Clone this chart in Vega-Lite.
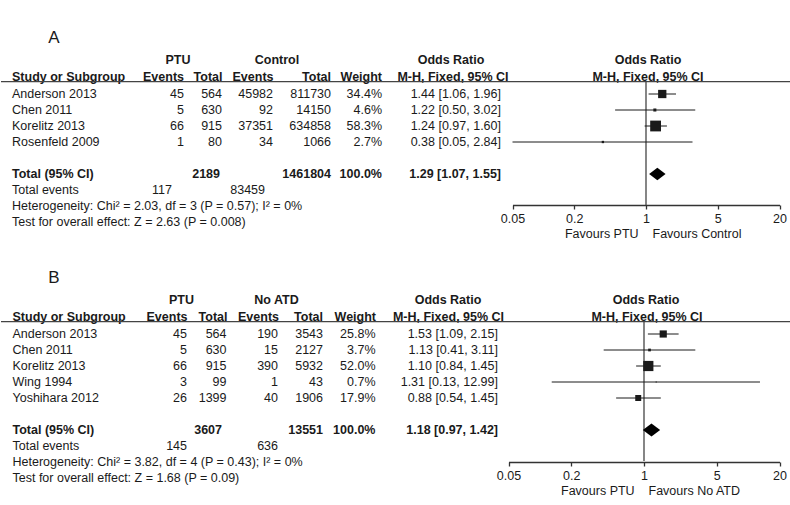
{
"$schema":"https://vega.github.io/schema/vega-lite/v6.json",
"padding":0,
"spacing":0,
"background":"white",
"config":{"view":{"stroke":null},"font":"Liberation Sans","text":{"font":"Liberation Sans","fontSize":12.5,"color":"#1a1a1a"}},
"datasets":{
"one":[{}],
"A":[
{"study":"Anderson 2013","kind":"study","ptuE":45,"ptuN":564,"ctlE":45982,"ctlN":811730,"weight":0.344,"or":1.44,"lo":1.06,"hi":1.96,"orText":"1.44 [1.06, 1.96]"},
{"study":"Chen 2011","kind":"study","ptuE":5,"ptuN":630,"ctlE":92,"ctlN":14150,"weight":0.046,"or":1.22,"lo":0.50,"hi":3.02,"orText":"1.22 [0.50, 3.02]"},
{"study":"Korelitz 2013","kind":"study","ptuE":66,"ptuN":915,"ctlE":37351,"ctlN":634858,"weight":0.583,"or":1.24,"lo":0.97,"hi":1.60,"orText":"1.24 [0.97, 1.60]"},
{"study":"Rosenfeld 2009","kind":"study","ptuE":1,"ptuN":80,"ctlE":34,"ctlN":1066,"weight":0.027,"or":0.38,"lo":0.05,"hi":2.84,"orText":"0.38 [0.05, 2.84]"},
{"study":"Total (95% CI)","kind":"total","ptuN":2189,"ctlN":1461804,"weight":1.0,"or":1.29,"lo":1.07,"hi":1.55,"orText":"1.29 [1.07, 1.55]"},
{"study":"Total events","kind":"events","ptuE":117,"ctlE":83459}
],
"B":[
{"study":"Anderson 2013","kind":"study","ptuE":45,"ptuN":564,"ctlE":190,"ctlN":3543,"weight":0.258,"or":1.53,"lo":1.09,"hi":2.15,"orText":"1.53 [1.09, 2.15]"},
{"study":"Chen 2011","kind":"study","ptuE":5,"ptuN":630,"ctlE":15,"ctlN":2127,"weight":0.037,"or":1.13,"lo":0.41,"hi":3.11,"orText":"1.13 [0.41, 3.11]"},
{"study":"Korelitz 2013","kind":"study","ptuE":66,"ptuN":915,"ctlE":390,"ctlN":5932,"weight":0.520,"or":1.10,"lo":0.84,"hi":1.45,"orText":"1.10 [0.84, 1.45]"},
{"study":"Wing 1994","kind":"study","ptuE":3,"ptuN":99,"ctlE":1,"ctlN":43,"weight":0.007,"or":1.31,"lo":0.13,"hi":12.99,"orText":"1.31 [0.13, 12.99]"},
{"study":"Yoshihara 2012","kind":"study","ptuE":26,"ptuN":1399,"ctlE":40,"ctlN":1906,"weight":0.179,"or":0.88,"lo":0.54,"hi":1.45,"orText":"0.88 [0.54, 1.45]"},
{"study":"Total (95% CI)","kind":"total","ptuN":3607,"ctlN":13551,"weight":1.0,"or":1.18,"lo":0.97,"hi":1.42,"orText":"1.18 [0.97, 1.42]"},
{"study":"Total events","kind":"events","ptuE":145,"ctlE":636}
]
},
"vconcat":[
{"width":790,"height":240,
"resolve":{"scale":{"x":"independent"},"axis":{"x":"independent"}},
"layer":[
{"data":{"name":"one"},"mark":{"type":"text","text":"A","fontSize":17,"align":"center","dy":-23.7},"encoding":{"x":{"datum":53,"type":"quantitative","scale":{"type":"linear","domain":[0,790],"range":[0,790],"nice":false,"zero":false},"axis":null},"y":{"datum":"h1","type":"nominal","scale":{"type":"band","domain":["h1","h2","Anderson 2013","Chen 2011","Korelitz 2013","Rosenfeld 2009","gap","Total (95% CI)","Total events","Heterogeneity","Test"],"range":[54,230],"paddingInner":0,"paddingOuter":0},"axis":null}}},
{"data":{"name":"one"},"mark":{"type":"text","text":"PTU","fontWeight":"bold","align":"center","dy":-2.5},"encoding":{"x":{"datum":177,"type":"quantitative","scale":{"type":"linear","domain":[0,790],"range":[0,790],"nice":false,"zero":false},"axis":null},"y":{"datum":"h1","type":"nominal","scale":{"type":"band","domain":["h1","h2","Anderson 2013","Chen 2011","Korelitz 2013","Rosenfeld 2009","gap","Total (95% CI)","Total events","Heterogeneity","Test"],"range":[54,230],"paddingInner":0,"paddingOuter":0},"axis":null}}},
{"data":{"name":"one"},"mark":{"type":"text","text":"Control","fontWeight":"bold","align":"center","dy":-2.5},"encoding":{"x":{"datum":276,"type":"quantitative","scale":{"type":"linear","domain":[0,790],"range":[0,790],"nice":false,"zero":false},"axis":null},"y":{"datum":"h1","type":"nominal","scale":{"type":"band","domain":["h1","h2","Anderson 2013","Chen 2011","Korelitz 2013","Rosenfeld 2009","gap","Total (95% CI)","Total events","Heterogeneity","Test"],"range":[54,230],"paddingInner":0,"paddingOuter":0},"axis":null}}},
{"data":{"name":"one"},"mark":{"type":"text","text":"Odds Ratio","fontWeight":"bold","align":"center","dy":-2.5},"encoding":{"x":{"datum":450,"type":"quantitative","scale":{"type":"linear","domain":[0,790],"range":[0,790],"nice":false,"zero":false},"axis":null},"y":{"datum":"h1","type":"nominal","scale":{"type":"band","domain":["h1","h2","Anderson 2013","Chen 2011","Korelitz 2013","Rosenfeld 2009","gap","Total (95% CI)","Total events","Heterogeneity","Test"],"range":[54,230],"paddingInner":0,"paddingOuter":0},"axis":null}}},
{"data":{"name":"one"},"mark":{"type":"text","text":"Odds Ratio","fontWeight":"bold","align":"center","dy":-2.5},"encoding":{"x":{"datum":647,"type":"quantitative","scale":{"type":"linear","domain":[0,790],"range":[0,790],"nice":false,"zero":false},"axis":null},"y":{"datum":"h1","type":"nominal","scale":{"type":"band","domain":["h1","h2","Anderson 2013","Chen 2011","Korelitz 2013","Rosenfeld 2009","gap","Total (95% CI)","Total events","Heterogeneity","Test"],"range":[54,230],"paddingInner":0,"paddingOuter":0},"axis":null}}},
{"data":{"name":"one"},"mark":{"type":"text","text":"Study or Subgroup","fontWeight":"bold","align":"left","dy":-1.5},"encoding":{"x":{"datum":11,"type":"quantitative","scale":{"type":"linear","domain":[0,790],"range":[0,790],"nice":false,"zero":false},"axis":null},"y":{"datum":"h2","type":"nominal","scale":{"type":"band","domain":["h1","h2","Anderson 2013","Chen 2011","Korelitz 2013","Rosenfeld 2009","gap","Total (95% CI)","Total events","Heterogeneity","Test"],"range":[54,230],"paddingInner":0,"paddingOuter":0},"axis":null}}},
{"data":{"name":"one"},"mark":{"type":"text","text":"Events","fontWeight":"bold","align":"right","dy":-1.5},"encoding":{"x":{"datum":183,"type":"quantitative","scale":{"type":"linear","domain":[0,790],"range":[0,790],"nice":false,"zero":false},"axis":null},"y":{"datum":"h2","type":"nominal","scale":{"type":"band","domain":["h1","h2","Anderson 2013","Chen 2011","Korelitz 2013","Rosenfeld 2009","gap","Total (95% CI)","Total events","Heterogeneity","Test"],"range":[54,230],"paddingInner":0,"paddingOuter":0},"axis":null}}},
{"data":{"name":"one"},"mark":{"type":"text","text":"Total","fontWeight":"bold","align":"right","dy":-1.5},"encoding":{"x":{"datum":221.5,"type":"quantitative","scale":{"type":"linear","domain":[0,790],"range":[0,790],"nice":false,"zero":false},"axis":null},"y":{"datum":"h2","type":"nominal","scale":{"type":"band","domain":["h1","h2","Anderson 2013","Chen 2011","Korelitz 2013","Rosenfeld 2009","gap","Total (95% CI)","Total events","Heterogeneity","Test"],"range":[54,230],"paddingInner":0,"paddingOuter":0},"axis":null}}},
{"data":{"name":"one"},"mark":{"type":"text","text":"Events","fontWeight":"bold","align":"right","dy":-1.5},"encoding":{"x":{"datum":272.5,"type":"quantitative","scale":{"type":"linear","domain":[0,790],"range":[0,790],"nice":false,"zero":false},"axis":null},"y":{"datum":"h2","type":"nominal","scale":{"type":"band","domain":["h1","h2","Anderson 2013","Chen 2011","Korelitz 2013","Rosenfeld 2009","gap","Total (95% CI)","Total events","Heterogeneity","Test"],"range":[54,230],"paddingInner":0,"paddingOuter":0},"axis":null}}},
{"data":{"name":"one"},"mark":{"type":"text","text":"Total","fontWeight":"bold","align":"right","dy":-1.5},"encoding":{"x":{"datum":330,"type":"quantitative","scale":{"type":"linear","domain":[0,790],"range":[0,790],"nice":false,"zero":false},"axis":null},"y":{"datum":"h2","type":"nominal","scale":{"type":"band","domain":["h1","h2","Anderson 2013","Chen 2011","Korelitz 2013","Rosenfeld 2009","gap","Total (95% CI)","Total events","Heterogeneity","Test"],"range":[54,230],"paddingInner":0,"paddingOuter":0},"axis":null}}},
{"data":{"name":"one"},"mark":{"type":"text","text":"Weight","fontWeight":"bold","align":"right","dy":-1.5},"encoding":{"x":{"datum":381,"type":"quantitative","scale":{"type":"linear","domain":[0,790],"range":[0,790],"nice":false,"zero":false},"axis":null},"y":{"datum":"h2","type":"nominal","scale":{"type":"band","domain":["h1","h2","Anderson 2013","Chen 2011","Korelitz 2013","Rosenfeld 2009","gap","Total (95% CI)","Total events","Heterogeneity","Test"],"range":[54,230],"paddingInner":0,"paddingOuter":0},"axis":null}}},
{"data":{"name":"one"},"mark":{"type":"text","text":"M-H, Fixed, 95% CI","fontWeight":"bold","align":"center","dy":-1.5},"encoding":{"x":{"datum":452,"type":"quantitative","scale":{"type":"linear","domain":[0,790],"range":[0,790],"nice":false,"zero":false},"axis":null},"y":{"datum":"h2","type":"nominal","scale":{"type":"band","domain":["h1","h2","Anderson 2013","Chen 2011","Korelitz 2013","Rosenfeld 2009","gap","Total (95% CI)","Total events","Heterogeneity","Test"],"range":[54,230],"paddingInner":0,"paddingOuter":0},"axis":null}}},
{"data":{"name":"one"},"mark":{"type":"text","text":"M-H, Fixed, 95% CI","fontWeight":"bold","align":"center","dy":-1.5},"encoding":{"x":{"datum":647,"type":"quantitative","scale":{"type":"linear","domain":[0,790],"range":[0,790],"nice":false,"zero":false},"axis":null},"y":{"datum":"h2","type":"nominal","scale":{"type":"band","domain":["h1","h2","Anderson 2013","Chen 2011","Korelitz 2013","Rosenfeld 2009","gap","Total (95% CI)","Total events","Heterogeneity","Test"],"range":[54,230],"paddingInner":0,"paddingOuter":0},"axis":null}}},
{"data":{"name":"one"},"mark":{"type":"rule","color":"#444444","strokeWidth":1.3,"yOffset":3.7},"encoding":{"x":{"datum":0,"type":"quantitative","scale":{"type":"linear","domain":[0,790],"range":[0,790],"nice":false,"zero":false},"axis":null},"x2":{"datum":790},"y":{"datum":"h2","type":"nominal","scale":{"type":"band","domain":["h1","h2","Anderson 2013","Chen 2011","Korelitz 2013","Rosenfeld 2009","gap","Total (95% CI)","Total events","Heterogeneity","Test"],"range":[54,230],"paddingInner":0,"paddingOuter":0},"axis":null}}},
{"data":{"name":"A"},"transform":[{"filter":"datum.kind !== 'total'"}],"mark":{"type":"text","align":"left"},"encoding":{"x":{"datum":11,"type":"quantitative","scale":{"type":"linear","domain":[0,790],"range":[0,790],"nice":false,"zero":false},"axis":null},"y":{"field":"study","type":"nominal","scale":{"type":"band","domain":["h1","h2","Anderson 2013","Chen 2011","Korelitz 2013","Rosenfeld 2009","gap","Total (95% CI)","Total events","Heterogeneity","Test"],"range":[54,230],"paddingInner":0,"paddingOuter":0},"axis":null},"text":{"field":"study","type":"nominal"}}},
{"data":{"name":"A"},"transform":[{"filter":"datum.kind === 'study'"}],"mark":{"type":"text","align":"right"},"encoding":{"x":{"datum":183,"type":"quantitative","scale":{"type":"linear","domain":[0,790],"range":[0,790],"nice":false,"zero":false},"axis":null},"y":{"field":"study","type":"nominal","scale":{"type":"band","domain":["h1","h2","Anderson 2013","Chen 2011","Korelitz 2013","Rosenfeld 2009","gap","Total (95% CI)","Total events","Heterogeneity","Test"],"range":[54,230],"paddingInner":0,"paddingOuter":0},"axis":null},"text":{"field":"ptuE","type":"nominal"}}},
{"data":{"name":"A"},"transform":[{"filter":"datum.kind === 'study'"}],"mark":{"type":"text","align":"right"},"encoding":{"x":{"datum":221,"type":"quantitative","scale":{"type":"linear","domain":[0,790],"range":[0,790],"nice":false,"zero":false},"axis":null},"y":{"field":"study","type":"nominal","scale":{"type":"band","domain":["h1","h2","Anderson 2013","Chen 2011","Korelitz 2013","Rosenfeld 2009","gap","Total (95% CI)","Total events","Heterogeneity","Test"],"range":[54,230],"paddingInner":0,"paddingOuter":0},"axis":null},"text":{"field":"ptuN","type":"nominal"}}},
{"data":{"name":"A"},"transform":[{"filter":"datum.kind === 'study'"}],"mark":{"type":"text","align":"right"},"encoding":{"x":{"datum":272,"type":"quantitative","scale":{"type":"linear","domain":[0,790],"range":[0,790],"nice":false,"zero":false},"axis":null},"y":{"field":"study","type":"nominal","scale":{"type":"band","domain":["h1","h2","Anderson 2013","Chen 2011","Korelitz 2013","Rosenfeld 2009","gap","Total (95% CI)","Total events","Heterogeneity","Test"],"range":[54,230],"paddingInner":0,"paddingOuter":0},"axis":null},"text":{"field":"ctlE","type":"nominal"}}},
{"data":{"name":"A"},"transform":[{"filter":"datum.kind === 'study'"}],"mark":{"type":"text","align":"right"},"encoding":{"x":{"datum":330,"type":"quantitative","scale":{"type":"linear","domain":[0,790],"range":[0,790],"nice":false,"zero":false},"axis":null},"y":{"field":"study","type":"nominal","scale":{"type":"band","domain":["h1","h2","Anderson 2013","Chen 2011","Korelitz 2013","Rosenfeld 2009","gap","Total (95% CI)","Total events","Heterogeneity","Test"],"range":[54,230],"paddingInner":0,"paddingOuter":0},"axis":null},"text":{"field":"ctlN","type":"nominal"}}},
{"data":{"name":"A"},"transform":[{"filter":"datum.kind === 'study'"}],"mark":{"type":"text","align":"right"},"encoding":{"x":{"datum":381,"type":"quantitative","scale":{"type":"linear","domain":[0,790],"range":[0,790],"nice":false,"zero":false},"axis":null},"y":{"field":"study","type":"nominal","scale":{"type":"band","domain":["h1","h2","Anderson 2013","Chen 2011","Korelitz 2013","Rosenfeld 2009","gap","Total (95% CI)","Total events","Heterogeneity","Test"],"range":[54,230],"paddingInner":0,"paddingOuter":0},"axis":null},"text":{"field":"weight","type":"quantitative","format":".1%"}}},
{"data":{"name":"A"},"transform":[{"filter":"datum.kind === 'study'"}],"mark":{"type":"text","align":"right"},"encoding":{"x":{"datum":500,"type":"quantitative","scale":{"type":"linear","domain":[0,790],"range":[0,790],"nice":false,"zero":false},"axis":null},"y":{"field":"study","type":"nominal","scale":{"type":"band","domain":["h1","h2","Anderson 2013","Chen 2011","Korelitz 2013","Rosenfeld 2009","gap","Total (95% CI)","Total events","Heterogeneity","Test"],"range":[54,230],"paddingInner":0,"paddingOuter":0},"axis":null},"text":{"field":"orText","type":"nominal"}}},
{"data":{"name":"A"},"transform":[{"filter":"datum.kind === 'total'"}],"mark":{"type":"text","align":"left","fontWeight":"bold"},"encoding":{"x":{"datum":11,"type":"quantitative","scale":{"type":"linear","domain":[0,790],"range":[0,790],"nice":false,"zero":false},"axis":null},"y":{"field":"study","type":"nominal","scale":{"type":"band","domain":["h1","h2","Anderson 2013","Chen 2011","Korelitz 2013","Rosenfeld 2009","gap","Total (95% CI)","Total events","Heterogeneity","Test"],"range":[54,230],"paddingInner":0,"paddingOuter":0},"axis":null},"text":{"field":"study","type":"nominal"}}},
{"data":{"name":"A"},"transform":[{"filter":"datum.kind === 'total'"}],"mark":{"type":"text","align":"right","fontWeight":"bold"},"encoding":{"x":{"datum":219,"type":"quantitative","scale":{"type":"linear","domain":[0,790],"range":[0,790],"nice":false,"zero":false},"axis":null},"y":{"field":"study","type":"nominal","scale":{"type":"band","domain":["h1","h2","Anderson 2013","Chen 2011","Korelitz 2013","Rosenfeld 2009","gap","Total (95% CI)","Total events","Heterogeneity","Test"],"range":[54,230],"paddingInner":0,"paddingOuter":0},"axis":null},"text":{"field":"ptuN","type":"nominal"}}},
{"data":{"name":"A"},"transform":[{"filter":"datum.kind === 'total'"}],"mark":{"type":"text","align":"right","fontWeight":"bold"},"encoding":{"x":{"datum":330,"type":"quantitative","scale":{"type":"linear","domain":[0,790],"range":[0,790],"nice":false,"zero":false},"axis":null},"y":{"field":"study","type":"nominal","scale":{"type":"band","domain":["h1","h2","Anderson 2013","Chen 2011","Korelitz 2013","Rosenfeld 2009","gap","Total (95% CI)","Total events","Heterogeneity","Test"],"range":[54,230],"paddingInner":0,"paddingOuter":0},"axis":null},"text":{"field":"ctlN","type":"nominal"}}},
{"data":{"name":"A"},"transform":[{"filter":"datum.kind === 'total'"}],"mark":{"type":"text","align":"right","fontWeight":"bold"},"encoding":{"x":{"datum":381,"type":"quantitative","scale":{"type":"linear","domain":[0,790],"range":[0,790],"nice":false,"zero":false},"axis":null},"y":{"field":"study","type":"nominal","scale":{"type":"band","domain":["h1","h2","Anderson 2013","Chen 2011","Korelitz 2013","Rosenfeld 2009","gap","Total (95% CI)","Total events","Heterogeneity","Test"],"range":[54,230],"paddingInner":0,"paddingOuter":0},"axis":null},"text":{"field":"weight","type":"quantitative","format":".1%"}}},
{"data":{"name":"A"},"transform":[{"filter":"datum.kind === 'total'"}],"mark":{"type":"text","align":"right","fontWeight":"bold"},"encoding":{"x":{"datum":500,"type":"quantitative","scale":{"type":"linear","domain":[0,790],"range":[0,790],"nice":false,"zero":false},"axis":null},"y":{"field":"study","type":"nominal","scale":{"type":"band","domain":["h1","h2","Anderson 2013","Chen 2011","Korelitz 2013","Rosenfeld 2009","gap","Total (95% CI)","Total events","Heterogeneity","Test"],"range":[54,230],"paddingInner":0,"paddingOuter":0},"axis":null},"text":{"field":"orText","type":"nominal"}}},
{"data":{"name":"A"},"transform":[{"filter":"datum.kind === 'events'"}],"mark":{"type":"text","align":"right"},"encoding":{"x":{"datum":171,"type":"quantitative","scale":{"type":"linear","domain":[0,790],"range":[0,790],"nice":false,"zero":false},"axis":null},"y":{"field":"study","type":"nominal","scale":{"type":"band","domain":["h1","h2","Anderson 2013","Chen 2011","Korelitz 2013","Rosenfeld 2009","gap","Total (95% CI)","Total events","Heterogeneity","Test"],"range":[54,230],"paddingInner":0,"paddingOuter":0},"axis":null},"text":{"field":"ptuE","type":"nominal"}}},
{"data":{"name":"A"},"transform":[{"filter":"datum.kind === 'events'"}],"mark":{"type":"text","align":"right"},"encoding":{"x":{"datum":264,"type":"quantitative","scale":{"type":"linear","domain":[0,790],"range":[0,790],"nice":false,"zero":false},"axis":null},"y":{"field":"study","type":"nominal","scale":{"type":"band","domain":["h1","h2","Anderson 2013","Chen 2011","Korelitz 2013","Rosenfeld 2009","gap","Total (95% CI)","Total events","Heterogeneity","Test"],"range":[54,230],"paddingInner":0,"paddingOuter":0},"axis":null},"text":{"field":"ctlE","type":"nominal"}}},
{"data":{"name":"one"},"mark":{"type":"text","text":"Heterogeneity: Chi² = 2.03, df = 3 (P = 0.57); I² = 0%","align":"left"},"encoding":{"x":{"datum":11,"type":"quantitative","scale":{"type":"linear","domain":[0,790],"range":[0,790],"nice":false,"zero":false},"axis":null},"y":{"datum":"Heterogeneity","type":"nominal","scale":{"type":"band","domain":["h1","h2","Anderson 2013","Chen 2011","Korelitz 2013","Rosenfeld 2009","gap","Total (95% CI)","Total events","Heterogeneity","Test"],"range":[54,230],"paddingInner":0,"paddingOuter":0},"axis":null}}},
{"data":{"name":"one"},"mark":{"type":"text","text":"Test for overall effect: Z = 2.63 (P = 0.008)","align":"left"},"encoding":{"x":{"datum":11,"type":"quantitative","scale":{"type":"linear","domain":[0,790],"range":[0,790],"nice":false,"zero":false},"axis":null},"y":{"datum":"Test","type":"nominal","scale":{"type":"band","domain":["h1","h2","Anderson 2013","Chen 2011","Korelitz 2013","Rosenfeld 2009","gap","Total (95% CI)","Total events","Heterogeneity","Test"],"range":[54,230],"paddingInner":0,"paddingOuter":0},"axis":null}}},
{"data":{"name":"one"},"mark":{"type":"rule","color":"#444444","strokeWidth":1.3,"yOffset":3.7,"y2Offset":-1},"encoding":{"x":{"datum":1,"type":"quantitative","scale":{"type":"log","domain":[0.05,20],"range":[511.5,778.5],"nice":false},"axis":null},"y":{"datum":"h2","type":"nominal","scale":{"type":"band","domain":["h1","h2","Anderson 2013","Chen 2011","Korelitz 2013","Rosenfeld 2009","gap","Total (95% CI)","Total events","Heterogeneity","Test"],"range":[54,230],"paddingInner":0,"paddingOuter":0},"axis":null},"y2":{"datum":"Heterogeneity"}}},
{"data":{"name":"A"},"transform":[{"filter":"datum.kind === 'study'"}],"mark":{"type":"rule","color":"#1a1a1a","strokeWidth":1},"encoding":{"x":{"field":"lo","type":"quantitative","scale":{"type":"log","domain":[0.05,20],"range":[511.5,778.5],"nice":false},"axis":{"orient":"bottom","offset":-35,"values":[0.05,0.2,1,5,20],"format":"~g","grid":false,"domainColor":"#333333","domainWidth":1.3,"tickColor":"#333333","tickWidth":1.3,"tickSize":4,"labelFont":"Liberation Sans","labelFontSize":12.5,"labelColor":"#1a1a1a","labelPadding":3,"labelFlush":false,"labelOverlap":false,"labelBound":false,"title":"Favours PTU\u00a0\u00a0\u00a0\u00a0Favours Control","titleFont":"Liberation Sans","titleFontSize":12.5,"titleFontWeight":"normal","titleColor":"#1a1a1a","titleX":651.7,"titleY":28,"titleBaseline":"middle","titleAlign":"center"}},"x2":{"field":"hi"},"y":{"field":"study","type":"nominal","scale":{"type":"band","domain":["h1","h2","Anderson 2013","Chen 2011","Korelitz 2013","Rosenfeld 2009","gap","Total (95% CI)","Total events","Heterogeneity","Test"],"range":[54,230],"paddingInner":0,"paddingOuter":0},"axis":null}}},
{"data":{"name":"A"},"transform":[{"filter":"datum.kind === 'study'"}],"mark":{"type":"point","shape":"square","filled":true,"color":"#1a1a1a","opacity":1},"encoding":{"x":{"field":"or","type":"quantitative","scale":{"type":"log","domain":[0.05,20],"range":[511.5,778.5],"nice":false},"axis":null},"y":{"field":"study","type":"nominal","scale":{"type":"band","domain":["h1","h2","Anderson 2013","Chen 2011","Korelitz 2013","Rosenfeld 2009","gap","Total (95% CI)","Total events","Heterogeneity","Test"],"range":[54,230],"paddingInner":0,"paddingOuter":0},"axis":null},"size":{"field":"weight","type":"quantitative","scale":{"domain":[0,1],"range":[0,200],"zero":true},"legend":null}}},
{"data":{"name":"A"},"transform":[{"filter":"datum.kind === 'total'"}],"mark":{"type":"point","shape":"M-1,0L0,-0.76L1,0L0,0.76Z","filled":true,"color":"#000000","opacity":1,"size":272},"encoding":{"x":{"field":"or","type":"quantitative","scale":{"type":"log","domain":[0.05,20],"range":[511.5,778.5],"nice":false},"axis":null},"y":{"field":"study","type":"nominal","scale":{"type":"band","domain":["h1","h2","Anderson 2013","Chen 2011","Korelitz 2013","Rosenfeld 2009","gap","Total (95% CI)","Total events","Heterogeneity","Test"],"range":[54,230],"paddingInner":0,"paddingOuter":0},"axis":null}}}
]},
{"width":790,"height":265,
"resolve":{"scale":{"x":"independent"},"axis":{"x":"independent"}},
"layer":[
{"data":{"name":"one"},"mark":{"type":"text","text":"B","fontSize":17,"align":"center","dy":-23.7},"encoding":{"x":{"datum":53,"type":"quantitative","scale":{"type":"linear","domain":[0,790],"range":[0,790],"nice":false,"zero":false},"axis":null},"y":{"datum":"h1","type":"nominal","scale":{"type":"band","domain":["h1","h2","Anderson 2013","Chen 2011","Korelitz 2013","Wing 1994","Yoshihara 2012","gap","Total (95% CI)","Total events","Heterogeneity","Test"],"range":[54,246],"paddingInner":0,"paddingOuter":0},"axis":null}}},
{"data":{"name":"one"},"mark":{"type":"text","text":"PTU","fontWeight":"bold","align":"center","dy":-2.5},"encoding":{"x":{"datum":180.5,"type":"quantitative","scale":{"type":"linear","domain":[0,790],"range":[0,790],"nice":false,"zero":false},"axis":null},"y":{"datum":"h1","type":"nominal","scale":{"type":"band","domain":["h1","h2","Anderson 2013","Chen 2011","Korelitz 2013","Wing 1994","Yoshihara 2012","gap","Total (95% CI)","Total events","Heterogeneity","Test"],"range":[54,246],"paddingInner":0,"paddingOuter":0},"axis":null}}},
{"data":{"name":"one"},"mark":{"type":"text","text":"No ATD","fontWeight":"bold","align":"center","dy":-2.5},"encoding":{"x":{"datum":275.5,"type":"quantitative","scale":{"type":"linear","domain":[0,790],"range":[0,790],"nice":false,"zero":false},"axis":null},"y":{"datum":"h1","type":"nominal","scale":{"type":"band","domain":["h1","h2","Anderson 2013","Chen 2011","Korelitz 2013","Wing 1994","Yoshihara 2012","gap","Total (95% CI)","Total events","Heterogeneity","Test"],"range":[54,246],"paddingInner":0,"paddingOuter":0},"axis":null}}},
{"data":{"name":"one"},"mark":{"type":"text","text":"Odds Ratio","fontWeight":"bold","align":"center","dy":-2.5},"encoding":{"x":{"datum":447,"type":"quantitative","scale":{"type":"linear","domain":[0,790],"range":[0,790],"nice":false,"zero":false},"axis":null},"y":{"datum":"h1","type":"nominal","scale":{"type":"band","domain":["h1","h2","Anderson 2013","Chen 2011","Korelitz 2013","Wing 1994","Yoshihara 2012","gap","Total (95% CI)","Total events","Heterogeneity","Test"],"range":[54,246],"paddingInner":0,"paddingOuter":0},"axis":null}}},
{"data":{"name":"one"},"mark":{"type":"text","text":"Odds Ratio","fontWeight":"bold","align":"center","dy":-2.5},"encoding":{"x":{"datum":645,"type":"quantitative","scale":{"type":"linear","domain":[0,790],"range":[0,790],"nice":false,"zero":false},"axis":null},"y":{"datum":"h1","type":"nominal","scale":{"type":"band","domain":["h1","h2","Anderson 2013","Chen 2011","Korelitz 2013","Wing 1994","Yoshihara 2012","gap","Total (95% CI)","Total events","Heterogeneity","Test"],"range":[54,246],"paddingInner":0,"paddingOuter":0},"axis":null}}},
{"data":{"name":"one"},"mark":{"type":"text","text":"Study or Subgroup","fontWeight":"bold","align":"left","dy":-1.5},"encoding":{"x":{"datum":11.5,"type":"quantitative","scale":{"type":"linear","domain":[0,790],"range":[0,790],"nice":false,"zero":false},"axis":null},"y":{"datum":"h2","type":"nominal","scale":{"type":"band","domain":["h1","h2","Anderson 2013","Chen 2011","Korelitz 2013","Wing 1994","Yoshihara 2012","gap","Total (95% CI)","Total events","Heterogeneity","Test"],"range":[54,246],"paddingInner":0,"paddingOuter":0},"axis":null}}},
{"data":{"name":"one"},"mark":{"type":"text","text":"Events","fontWeight":"bold","align":"right","dy":-1.5},"encoding":{"x":{"datum":186.5,"type":"quantitative","scale":{"type":"linear","domain":[0,790],"range":[0,790],"nice":false,"zero":false},"axis":null},"y":{"datum":"h2","type":"nominal","scale":{"type":"band","domain":["h1","h2","Anderson 2013","Chen 2011","Korelitz 2013","Wing 1994","Yoshihara 2012","gap","Total (95% CI)","Total events","Heterogeneity","Test"],"range":[54,246],"paddingInner":0,"paddingOuter":0},"axis":null}}},
{"data":{"name":"one"},"mark":{"type":"text","text":"Total","fontWeight":"bold","align":"right","dy":-1.5},"encoding":{"x":{"datum":226.5,"type":"quantitative","scale":{"type":"linear","domain":[0,790],"range":[0,790],"nice":false,"zero":false},"axis":null},"y":{"datum":"h2","type":"nominal","scale":{"type":"band","domain":["h1","h2","Anderson 2013","Chen 2011","Korelitz 2013","Wing 1994","Yoshihara 2012","gap","Total (95% CI)","Total events","Heterogeneity","Test"],"range":[54,246],"paddingInner":0,"paddingOuter":0},"axis":null}}},
{"data":{"name":"one"},"mark":{"type":"text","text":"Events","fontWeight":"bold","align":"right","dy":-1.5},"encoding":{"x":{"datum":278,"type":"quantitative","scale":{"type":"linear","domain":[0,790],"range":[0,790],"nice":false,"zero":false},"axis":null},"y":{"datum":"h2","type":"nominal","scale":{"type":"band","domain":["h1","h2","Anderson 2013","Chen 2011","Korelitz 2013","Wing 1994","Yoshihara 2012","gap","Total (95% CI)","Total events","Heterogeneity","Test"],"range":[54,246],"paddingInner":0,"paddingOuter":0},"axis":null}}},
{"data":{"name":"one"},"mark":{"type":"text","text":"Total","fontWeight":"bold","align":"right","dy":-1.5},"encoding":{"x":{"datum":322,"type":"quantitative","scale":{"type":"linear","domain":[0,790],"range":[0,790],"nice":false,"zero":false},"axis":null},"y":{"datum":"h2","type":"nominal","scale":{"type":"band","domain":["h1","h2","Anderson 2013","Chen 2011","Korelitz 2013","Wing 1994","Yoshihara 2012","gap","Total (95% CI)","Total events","Heterogeneity","Test"],"range":[54,246],"paddingInner":0,"paddingOuter":0},"axis":null}}},
{"data":{"name":"one"},"mark":{"type":"text","text":"Weight","fontWeight":"bold","align":"right","dy":-1.5},"encoding":{"x":{"datum":375,"type":"quantitative","scale":{"type":"linear","domain":[0,790],"range":[0,790],"nice":false,"zero":false},"axis":null},"y":{"datum":"h2","type":"nominal","scale":{"type":"band","domain":["h1","h2","Anderson 2013","Chen 2011","Korelitz 2013","Wing 1994","Yoshihara 2012","gap","Total (95% CI)","Total events","Heterogeneity","Test"],"range":[54,246],"paddingInner":0,"paddingOuter":0},"axis":null}}},
{"data":{"name":"one"},"mark":{"type":"text","text":"M-H, Fixed, 95% CI","fontWeight":"bold","align":"center","dy":-1.5},"encoding":{"x":{"datum":447.5,"type":"quantitative","scale":{"type":"linear","domain":[0,790],"range":[0,790],"nice":false,"zero":false},"axis":null},"y":{"datum":"h2","type":"nominal","scale":{"type":"band","domain":["h1","h2","Anderson 2013","Chen 2011","Korelitz 2013","Wing 1994","Yoshihara 2012","gap","Total (95% CI)","Total events","Heterogeneity","Test"],"range":[54,246],"paddingInner":0,"paddingOuter":0},"axis":null}}},
{"data":{"name":"one"},"mark":{"type":"text","text":"M-H, Fixed, 95% CI","fontWeight":"bold","align":"center","dy":-1.5},"encoding":{"x":{"datum":646,"type":"quantitative","scale":{"type":"linear","domain":[0,790],"range":[0,790],"nice":false,"zero":false},"axis":null},"y":{"datum":"h2","type":"nominal","scale":{"type":"band","domain":["h1","h2","Anderson 2013","Chen 2011","Korelitz 2013","Wing 1994","Yoshihara 2012","gap","Total (95% CI)","Total events","Heterogeneity","Test"],"range":[54,246],"paddingInner":0,"paddingOuter":0},"axis":null}}},
{"data":{"name":"one"},"mark":{"type":"rule","color":"#444444","strokeWidth":1.3,"yOffset":3.7},"encoding":{"x":{"datum":0,"type":"quantitative","scale":{"type":"linear","domain":[0,790],"range":[0,790],"nice":false,"zero":false},"axis":null},"x2":{"datum":790},"y":{"datum":"h2","type":"nominal","scale":{"type":"band","domain":["h1","h2","Anderson 2013","Chen 2011","Korelitz 2013","Wing 1994","Yoshihara 2012","gap","Total (95% CI)","Total events","Heterogeneity","Test"],"range":[54,246],"paddingInner":0,"paddingOuter":0},"axis":null}}},
{"data":{"name":"B"},"transform":[{"filter":"datum.kind !== 'total'"}],"mark":{"type":"text","align":"left"},"encoding":{"x":{"datum":11.5,"type":"quantitative","scale":{"type":"linear","domain":[0,790],"range":[0,790],"nice":false,"zero":false},"axis":null},"y":{"field":"study","type":"nominal","scale":{"type":"band","domain":["h1","h2","Anderson 2013","Chen 2011","Korelitz 2013","Wing 1994","Yoshihara 2012","gap","Total (95% CI)","Total events","Heterogeneity","Test"],"range":[54,246],"paddingInner":0,"paddingOuter":0},"axis":null},"text":{"field":"study","type":"nominal"}}},
{"data":{"name":"B"},"transform":[{"filter":"datum.kind !== 'total'"}],"mark":{"type":"text","align":"right"},"encoding":{"x":{"datum":186,"type":"quantitative","scale":{"type":"linear","domain":[0,790],"range":[0,790],"nice":false,"zero":false},"axis":null},"y":{"field":"study","type":"nominal","scale":{"type":"band","domain":["h1","h2","Anderson 2013","Chen 2011","Korelitz 2013","Wing 1994","Yoshihara 2012","gap","Total (95% CI)","Total events","Heterogeneity","Test"],"range":[54,246],"paddingInner":0,"paddingOuter":0},"axis":null},"text":{"field":"ptuE","type":"nominal"}}},
{"data":{"name":"B"},"transform":[{"filter":"datum.kind === 'study'"}],"mark":{"type":"text","align":"right"},"encoding":{"x":{"datum":225.5,"type":"quantitative","scale":{"type":"linear","domain":[0,790],"range":[0,790],"nice":false,"zero":false},"axis":null},"y":{"field":"study","type":"nominal","scale":{"type":"band","domain":["h1","h2","Anderson 2013","Chen 2011","Korelitz 2013","Wing 1994","Yoshihara 2012","gap","Total (95% CI)","Total events","Heterogeneity","Test"],"range":[54,246],"paddingInner":0,"paddingOuter":0},"axis":null},"text":{"field":"ptuN","type":"nominal"}}},
{"data":{"name":"B"},"transform":[{"filter":"datum.kind !== 'total'"}],"mark":{"type":"text","align":"right"},"encoding":{"x":{"datum":277,"type":"quantitative","scale":{"type":"linear","domain":[0,790],"range":[0,790],"nice":false,"zero":false},"axis":null},"y":{"field":"study","type":"nominal","scale":{"type":"band","domain":["h1","h2","Anderson 2013","Chen 2011","Korelitz 2013","Wing 1994","Yoshihara 2012","gap","Total (95% CI)","Total events","Heterogeneity","Test"],"range":[54,246],"paddingInner":0,"paddingOuter":0},"axis":null},"text":{"field":"ctlE","type":"nominal"}}},
{"data":{"name":"B"},"transform":[{"filter":"datum.kind === 'study'"}],"mark":{"type":"text","align":"right"},"encoding":{"x":{"datum":322,"type":"quantitative","scale":{"type":"linear","domain":[0,790],"range":[0,790],"nice":false,"zero":false},"axis":null},"y":{"field":"study","type":"nominal","scale":{"type":"band","domain":["h1","h2","Anderson 2013","Chen 2011","Korelitz 2013","Wing 1994","Yoshihara 2012","gap","Total (95% CI)","Total events","Heterogeneity","Test"],"range":[54,246],"paddingInner":0,"paddingOuter":0},"axis":null},"text":{"field":"ctlN","type":"nominal"}}},
{"data":{"name":"B"},"transform":[{"filter":"datum.kind === 'study'"}],"mark":{"type":"text","align":"right"},"encoding":{"x":{"datum":374.5,"type":"quantitative","scale":{"type":"linear","domain":[0,790],"range":[0,790],"nice":false,"zero":false},"axis":null},"y":{"field":"study","type":"nominal","scale":{"type":"band","domain":["h1","h2","Anderson 2013","Chen 2011","Korelitz 2013","Wing 1994","Yoshihara 2012","gap","Total (95% CI)","Total events","Heterogeneity","Test"],"range":[54,246],"paddingInner":0,"paddingOuter":0},"axis":null},"text":{"field":"weight","type":"quantitative","format":".1%"}}},
{"data":{"name":"B"},"transform":[{"filter":"datum.kind === 'study'"}],"mark":{"type":"text","align":"right"},"encoding":{"x":{"datum":497,"type":"quantitative","scale":{"type":"linear","domain":[0,790],"range":[0,790],"nice":false,"zero":false},"axis":null},"y":{"field":"study","type":"nominal","scale":{"type":"band","domain":["h1","h2","Anderson 2013","Chen 2011","Korelitz 2013","Wing 1994","Yoshihara 2012","gap","Total (95% CI)","Total events","Heterogeneity","Test"],"range":[54,246],"paddingInner":0,"paddingOuter":0},"axis":null},"text":{"field":"orText","type":"nominal"}}},
{"data":{"name":"B"},"transform":[{"filter":"datum.kind === 'total'"}],"mark":{"type":"text","align":"left","fontWeight":"bold"},"encoding":{"x":{"datum":11.5,"type":"quantitative","scale":{"type":"linear","domain":[0,790],"range":[0,790],"nice":false,"zero":false},"axis":null},"y":{"field":"study","type":"nominal","scale":{"type":"band","domain":["h1","h2","Anderson 2013","Chen 2011","Korelitz 2013","Wing 1994","Yoshihara 2012","gap","Total (95% CI)","Total events","Heterogeneity","Test"],"range":[54,246],"paddingInner":0,"paddingOuter":0},"axis":null},"text":{"field":"study","type":"nominal"}}},
{"data":{"name":"B"},"transform":[{"filter":"datum.kind === 'total'"}],"mark":{"type":"text","align":"right","fontWeight":"bold"},"encoding":{"x":{"datum":221,"type":"quantitative","scale":{"type":"linear","domain":[0,790],"range":[0,790],"nice":false,"zero":false},"axis":null},"y":{"field":"study","type":"nominal","scale":{"type":"band","domain":["h1","h2","Anderson 2013","Chen 2011","Korelitz 2013","Wing 1994","Yoshihara 2012","gap","Total (95% CI)","Total events","Heterogeneity","Test"],"range":[54,246],"paddingInner":0,"paddingOuter":0},"axis":null},"text":{"field":"ptuN","type":"nominal"}}},
{"data":{"name":"B"},"transform":[{"filter":"datum.kind === 'total'"}],"mark":{"type":"text","align":"right","fontWeight":"bold"},"encoding":{"x":{"datum":322,"type":"quantitative","scale":{"type":"linear","domain":[0,790],"range":[0,790],"nice":false,"zero":false},"axis":null},"y":{"field":"study","type":"nominal","scale":{"type":"band","domain":["h1","h2","Anderson 2013","Chen 2011","Korelitz 2013","Wing 1994","Yoshihara 2012","gap","Total (95% CI)","Total events","Heterogeneity","Test"],"range":[54,246],"paddingInner":0,"paddingOuter":0},"axis":null},"text":{"field":"ctlN","type":"nominal"}}},
{"data":{"name":"B"},"transform":[{"filter":"datum.kind === 'total'"}],"mark":{"type":"text","align":"right","fontWeight":"bold"},"encoding":{"x":{"datum":374.5,"type":"quantitative","scale":{"type":"linear","domain":[0,790],"range":[0,790],"nice":false,"zero":false},"axis":null},"y":{"field":"study","type":"nominal","scale":{"type":"band","domain":["h1","h2","Anderson 2013","Chen 2011","Korelitz 2013","Wing 1994","Yoshihara 2012","gap","Total (95% CI)","Total events","Heterogeneity","Test"],"range":[54,246],"paddingInner":0,"paddingOuter":0},"axis":null},"text":{"field":"weight","type":"quantitative","format":".1%"}}},
{"data":{"name":"B"},"transform":[{"filter":"datum.kind === 'total'"}],"mark":{"type":"text","align":"right","fontWeight":"bold"},"encoding":{"x":{"datum":497,"type":"quantitative","scale":{"type":"linear","domain":[0,790],"range":[0,790],"nice":false,"zero":false},"axis":null},"y":{"field":"study","type":"nominal","scale":{"type":"band","domain":["h1","h2","Anderson 2013","Chen 2011","Korelitz 2013","Wing 1994","Yoshihara 2012","gap","Total (95% CI)","Total events","Heterogeneity","Test"],"range":[54,246],"paddingInner":0,"paddingOuter":0},"axis":null},"text":{"field":"orText","type":"nominal"}}},
{"data":{"name":"one"},"mark":{"type":"text","text":"Heterogeneity: Chi² = 3.82, df = 4 (P = 0.43); I² = 0%","align":"left"},"encoding":{"x":{"datum":11.5,"type":"quantitative","scale":{"type":"linear","domain":[0,790],"range":[0,790],"nice":false,"zero":false},"axis":null},"y":{"datum":"Heterogeneity","type":"nominal","scale":{"type":"band","domain":["h1","h2","Anderson 2013","Chen 2011","Korelitz 2013","Wing 1994","Yoshihara 2012","gap","Total (95% CI)","Total events","Heterogeneity","Test"],"range":[54,246],"paddingInner":0,"paddingOuter":0},"axis":null}}},
{"data":{"name":"one"},"mark":{"type":"text","text":"Test for overall effect: Z = 1.68 (P = 0.09)","align":"left"},"encoding":{"x":{"datum":11.5,"type":"quantitative","scale":{"type":"linear","domain":[0,790],"range":[0,790],"nice":false,"zero":false},"axis":null},"y":{"datum":"Test","type":"nominal","scale":{"type":"band","domain":["h1","h2","Anderson 2013","Chen 2011","Korelitz 2013","Wing 1994","Yoshihara 2012","gap","Total (95% CI)","Total events","Heterogeneity","Test"],"range":[54,246],"paddingInner":0,"paddingOuter":0},"axis":null}}},
{"data":{"name":"one"},"mark":{"type":"rule","color":"#444444","strokeWidth":1.3,"yOffset":3.7,"y2Offset":-1},"encoding":{"x":{"datum":1,"type":"quantitative","scale":{"type":"log","domain":[0.05,20],"range":[507.5,778.5],"nice":false},"axis":null},"y":{"datum":"h2","type":"nominal","scale":{"type":"band","domain":["h1","h2","Anderson 2013","Chen 2011","Korelitz 2013","Wing 1994","Yoshihara 2012","gap","Total (95% CI)","Total events","Heterogeneity","Test"],"range":[54,246],"paddingInner":0,"paddingOuter":0},"axis":null},"y2":{"datum":"Heterogeneity"}}},
{"data":{"name":"B"},"transform":[{"filter":"datum.kind === 'study'"}],"mark":{"type":"rule","color":"#1a1a1a","strokeWidth":1},"encoding":{"x":{"field":"lo","type":"quantitative","scale":{"type":"log","domain":[0.05,20],"range":[507.5,778.5],"nice":false},"axis":{"orient":"bottom","offset":-43,"values":[0.05,0.2,1,5,20],"format":"~g","grid":false,"domainColor":"#333333","domainWidth":1.3,"tickColor":"#333333","tickWidth":1.3,"tickSize":4,"labelFont":"Liberation Sans","labelFontSize":12.5,"labelColor":"#1a1a1a","labelPadding":3,"labelFlush":false,"labelOverlap":false,"labelBound":false,"title":"Favours PTU\u00a0\u00a0\u00a0\u00a0Favours No ATD","titleFont":"Liberation Sans","titleFontSize":12.5,"titleFontWeight":"normal","titleColor":"#1a1a1a","titleX":649,"titleY":28,"titleBaseline":"middle","titleAlign":"center"}},"x2":{"field":"hi"},"y":{"field":"study","type":"nominal","scale":{"type":"band","domain":["h1","h2","Anderson 2013","Chen 2011","Korelitz 2013","Wing 1994","Yoshihara 2012","gap","Total (95% CI)","Total events","Heterogeneity","Test"],"range":[54,246],"paddingInner":0,"paddingOuter":0},"axis":null}}},
{"data":{"name":"B"},"transform":[{"filter":"datum.kind === 'study'"}],"mark":{"type":"point","shape":"square","filled":true,"color":"#1a1a1a","opacity":1},"encoding":{"x":{"field":"or","type":"quantitative","scale":{"type":"log","domain":[0.05,20],"range":[507.5,778.5],"nice":false},"axis":null},"y":{"field":"study","type":"nominal","scale":{"type":"band","domain":["h1","h2","Anderson 2013","Chen 2011","Korelitz 2013","Wing 1994","Yoshihara 2012","gap","Total (95% CI)","Total events","Heterogeneity","Test"],"range":[54,246],"paddingInner":0,"paddingOuter":0},"axis":null},"size":{"field":"weight","type":"quantitative","scale":{"domain":[0,1],"range":[0,200],"zero":true},"legend":null}}},
{"data":{"name":"B"},"transform":[{"filter":"datum.kind === 'total'"}],"mark":{"type":"point","shape":"M-1,0L0,-0.76L1,0L0,0.76Z","filled":true,"color":"#000000","opacity":1,"size":300},"encoding":{"x":{"field":"or","type":"quantitative","scale":{"type":"log","domain":[0.05,20],"range":[507.5,778.5],"nice":false},"axis":null},"y":{"field":"study","type":"nominal","scale":{"type":"band","domain":["h1","h2","Anderson 2013","Chen 2011","Korelitz 2013","Wing 1994","Yoshihara 2012","gap","Total (95% CI)","Total events","Heterogeneity","Test"],"range":[54,246],"paddingInner":0,"paddingOuter":0},"axis":null}}}
]}
]
}
